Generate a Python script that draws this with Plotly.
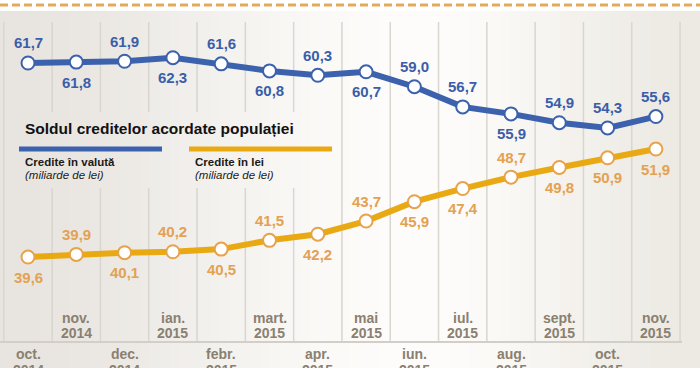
import math
import plotly.graph_objects as go

# ---------------- data ----------------
months = ["oct.", "nov.", "dec.", "ian.", "febr.", "mart.", "apr.",
          "mai", "iun.", "iul.", "aug.", "sept.", "oct.", "nov."]
years = ["2014", "2014", "2014", "2015", "2015", "2015", "2015",
         "2015", "2015", "2015", "2015", "2015", "2015", "2015"]
credite_valuta = [61.7, 61.8, 61.9, 62.3, 61.6, 60.8, 60.3,
                  60.7, 59.0, 56.7, 55.9, 54.9, 54.3, 55.6]
credite_lei = [39.6, 39.9, 40.1, 40.2, 40.5, 41.5, 42.2,
               43.7, 45.9, 47.4, 48.7, 49.8, 50.9, 51.9]

title_text = "Soldul creditelor acordate populației"
series_names = ["Credite în valută", "Credite în lei"]
unit_text = "(miliarde de lei)"

# ---------------- style ----------------
W, H = 700, 368
BLUE = "#3c62ae"
BLUE_TXT = "#3a5ea9"
GOLD = "#e9a912"
GOLD_MK = "#e8a24a"
GOLD_TXT = "#e3a152"
AXIS_TXT = "#8a8070"
GRID = "#d9d5cf"
FONT = "Liberation Sans, Arial, sans-serif"

# label side: +1 above the point, -1 below
side_valuta = [1, -1, 1, -1, 1, -1, 1, -1, 1, 1, -1, 1, 1, 1]
side_lei = [-1, 1, -1, 1, -1, 1, -1, 1, -1, -1, 1, -1, -1, -1]

x0_px, step_px = 28.0, 48.3
y_top, y_bot = 68.875, 26.96


def px_x(px):
    return px / W


def px_y(py):
    return 1 - py / H


def fmt(v):
    return f"{v:.1f}".replace(".", ",")


n = len(months)
xs = list(range(n))

fig = go.Figure()

fig.add_trace(go.Scatter(
    x=xs, y=credite_valuta, mode="lines+markers", name=series_names[0],
    line=dict(color=BLUE, width=6),
    marker=dict(size=13, color="white", line=dict(color=BLUE, width=2)),
    hoverinfo="skip"))
fig.add_trace(go.Scatter(
    x=xs, y=credite_lei, mode="lines+markers", name=series_names[1],
    line=dict(color=GOLD, width=6),
    marker=dict(size=13, color="white", line=dict(color=GOLD_MK, width=2)),
    hoverinfo="skip"))

shapes = []

# background gradient (horizontal)
c_edge_l = (232, 229, 224)
c_mid = (253, 252, 250)
c_edge_r = (237, 234, 228)
mid_px = 420
nstripes = 70
sw = W / nstripes
for s in range(nstripes):
    cx = (s + 0.5) * sw
    if cx < mid_px:
        t = cx / mid_px
        a, b = c_edge_l, c_mid
    else:
        t = 1 - (cx - mid_px) / (W - mid_px)
        a, b = c_edge_r, c_mid
    f = 0.5 - 0.5 * math.cos(math.pi * t)
    col = tuple(round(a[k] + (b[k] - a[k]) * f) for k in range(3))
    shapes.append(dict(type="rect", xref="paper", yref="paper",
                       x0=px_x(s * sw), x1=px_x((s + 1) * sw + 0.6),
                       y0=0, y1=px_y(11), fillcolor="rgb(%d,%d,%d)" % col,
                       line=dict(width=0), layer="below"))
# top white band + dashed line
shapes.append(dict(type="rect", xref="paper", yref="paper", x0=0, x1=1,
                   y0=px_y(11), y1=1, fillcolor="white", line=dict(width=0),
                   layer="below"))
shapes.append(dict(type="line", xref="paper", yref="paper", x0=0, x1=1,
                   y0=px_y(5), y1=px_y(5),
                   line=dict(color="#e5a95c", width=3, dash="8px,4px"),
                   layer="below"))

# vertical grid lines (column separators)
for k in range(-1, n):
    xb = k + 0.5
    xpix = x0_px + xb * step_px
    if 6 < xpix < 340:
        segs = [(22, 112), (188, 342)]
    else:
        segs = [(22, 342)]
    for a, b in segs:
        shapes.append(dict(type="line", xref="x", yref="paper", x0=xb, x1=xb,
                           y0=px_y(a), y1=px_y(b),
                           line=dict(color=GRID, width=1.5), layer="below"))
# bottom axis line
shapes.append(dict(type="line", xref="paper", yref="paper", x0=0,
                   x1=px_x(682), y0=px_y(342), y1=px_y(342),
                   line=dict(color="#d3cfc8", width=2), layer="below"))

# legend swatches
shapes.append(dict(type="line", xref="paper", yref="paper",
                   x0=px_x(19), x1=px_x(162), y0=px_y(149), y1=px_y(149),
                   line=dict(color=BLUE, width=5)))
shapes.append(dict(type="line", xref="paper", yref="paper",
                   x0=px_x(189), x1=px_x(332), y0=px_y(149), y1=px_y(149),
                   line=dict(color=GOLD, width=5)))

ann = []
# value labels
for vals, sides, col in ((credite_valuta, side_valuta, BLUE_TXT),
                         (credite_lei, side_lei, GOLD_TXT)):
    for i, v in enumerate(vals):
        ann.append(dict(x=i, y=v, xref="x", yref="y", text=fmt(v),
                        showarrow=False, yshift=20 * sides[i],
                        font=dict(family=FONT, size=15, color=col,
                                  weight="bold")))

# category labels (alternating rows)
for i in range(n):
    if i % 2 == 1:
        ym, yy = 318, 333
    else:
        ym, yy = 354, 370
    for txt, yp in ((months[i], ym), (years[i], yy)):
        ann.append(dict(x=i, y=px_y(yp), xref="x", yref="paper", text=txt,
                        showarrow=False, yanchor="middle",
                        font=dict(family=FONT, size=14, color=AXIS_TXT,
                                  weight="bold")))

# legend texts
ann.append(dict(x=px_x(23), y=px_y(128), xref="paper", yref="paper",
                text=title_text, showarrow=False, xanchor="left",
                yanchor="middle",
                font=dict(family=FONT, size=15.5, color="#111111",
                          weight="bold")))
for xl, name in ((23, series_names[0]), (193, series_names[1])):
    ann.append(dict(x=px_x(xl), y=px_y(162), xref="paper", yref="paper",
                    text=name, showarrow=False, xanchor="left",
                    yanchor="middle",
                    font=dict(family=FONT, size=11.5, color="#1a1a1a",
                              weight="bold")))
    ann.append(dict(x=px_x(xl), y=px_y(174.5), xref="paper", yref="paper",
                    text="<i>" + unit_text + "</i>", showarrow=False,
                    xanchor="left", yanchor="middle",
                    font=dict(family=FONT, size=11.5, color="#1a1a1a")))

x_lo = -x0_px / step_px
x_hi = (W - x0_px) / step_px

fig.update_layout(
    width=W, height=H,
    margin=dict(l=0, r=0, t=0, b=0),
    paper_bgcolor="#f0eee9", plot_bgcolor="rgba(0,0,0,0)",
    showlegend=False,
    xaxis=dict(range=[x_lo, x_hi], visible=False, fixedrange=True),
    yaxis=dict(range=[y_bot, y_top], visible=False, fixedrange=True),
    shapes=shapes, annotations=ann,
)

fig.write_html("out.html", config={"displayModeBar": False},
               post_script="document.body.style.margin='0px';"
                           "document.body.style.overflow='hidden';")
